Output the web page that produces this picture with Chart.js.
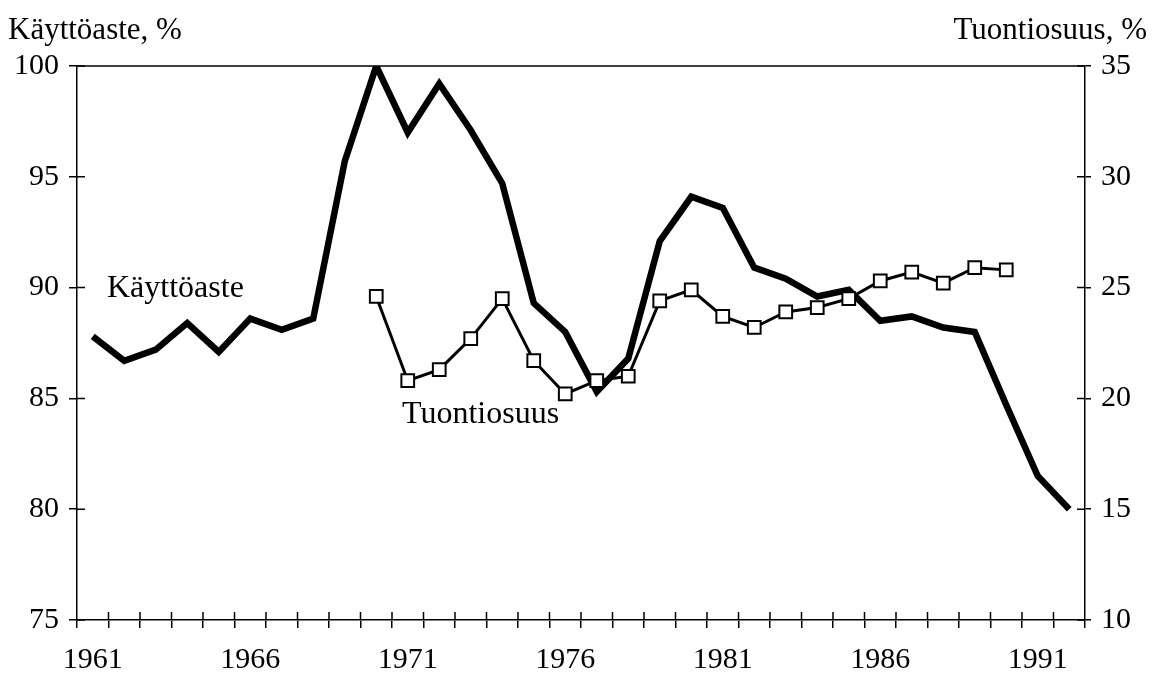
<!DOCTYPE html>
<html>
<head>
<meta charset="utf-8">
<script src="https://cdn.jsdelivr.net/npm/chart.js@4.4.1/dist/chart.umd.min.js"></script>
<style>
  html, body { margin: 0; padding: 0; background: #fff; }
  #wrap { width: 1154px; height: 683px; position: relative; }
</style>
</head>
<body>
<div id="wrap"><canvas id="chart"></canvas></div>
<script>
// years 1961..1992
let years = [];
for (let y = 1961; y <= 1992; y++) years.push(String(y));

// capacity utilisation, % (left axis)
let kayttoaste = [87.8, 86.7, 87.2, 88.4, 87.1, 88.6, 88.1, 88.6, 95.7, 100.0,
                  97.0, 99.2, 97.1, 94.7, 89.3, 88.0, 85.3, 86.8, 92.1, 94.1,
                  93.6, 90.9, 90.4, 89.6, 89.9, 88.5, 88.7, 88.2, 88.0, 84.7,
                  81.5, 80.0];

// import share, % (right axis), 1970..1990
let tuontiosuus = [null, null, null, null, null, null, null, null, null,
                   24.6, 20.8, 21.3, 22.7, 24.5, 21.7, 20.2, 20.8, 21.0, 24.4,
                   24.9, 23.7, 23.2, 23.9, 24.1, 24.5, 25.3, 25.7, 25.2, 25.9,
                   25.8, null, null];

let leftTicks = [75, 80, 85, 90, 95, 100];
let rightTicks = [10, 15, 20, 25, 30, 35];

const FONT = 'Liberation Serif';

// frame, inner tick marks and texts
const extras = {
  id: 'extras',
  afterDatasetsDraw(chart) {
    const ctx = chart.ctx;
    const a = chart.chartArea;
    const sx = chart.scales.x, sy = chart.scales.y, sy1 = chart.scales.y1;
    ctx.save();
    ctx.strokeStyle = '#000';
    ctx.lineWidth = 1.5;
    ctx.beginPath();
    ctx.moveTo(a.left, a.top);
    ctx.lineTo(a.right, a.top);
    ctx.stroke();
    // inner halves of tick marks
    ctx.beginPath();
    leftTicks.forEach(v => {
      const p = sy.getPixelForValue(v);
      ctx.moveTo(a.left, p); ctx.lineTo(a.left + 8, p);
    });
    rightTicks.forEach(v => {
      const p = sy1.getPixelForValue(v);
      ctx.moveTo(a.right, p); ctx.lineTo(a.right - 8, p);
    });
    for (let i = 1; i < years.length; i++) {
      const p = (sx.getPixelForTick(i - 1) + sx.getPixelForTick(i)) / 2;
      ctx.moveTo(p, a.bottom); ctx.lineTo(p, a.bottom - 8);
    }
    ctx.stroke();
    ctx.fillStyle = '#000';
    ctx.font = '31px "' + FONT + '"';
    ctx.textBaseline = 'middle';
    ctx.textAlign = 'left';
    ctx.fillText('Käyttöaste, %', 8, 31);
    ctx.font = '32px "' + FONT + '"';
    ctx.fillText('Käyttöaste', 107, 289);
    ctx.fillText('Tuontiosuus', 402, 415);
    ctx.font = '31px "' + FONT + '"';
    ctx.textAlign = 'right';
    ctx.fillText('Tuontiosuus, %', 1147, 31);
    ctx.restore();
  }
};

new Chart(document.getElementById('chart'), {
  type: 'line',
  data: {
    labels: years,
    datasets: [
      {
        label: 'Tuontiosuus',
        data: tuontiosuus,
        yAxisID: 'y1',
        borderColor: '#000',
        borderWidth: 3,
        pointStyle: 'rect',
        pointRadius: 9,
        pointBorderWidth: 2,
        pointBackgroundColor: '#fff',
        pointBorderColor: '#000',
        spanGaps: false,
        tension: 0
      },
      {
        label: 'Käyttöaste',
        data: kayttoaste,
        yAxisID: 'y',
        borderColor: '#000',
        borderWidth: 6.5,
        borderJoinStyle: 'miter',
        pointRadius: 0,
        tension: 0
      }
    ]
  },
  options: {
    responsive: true,
    maintainAspectRatio: false,
    animation: false,
    layout: { padding: { top: 66, left: 0, right: 0, bottom: 0 } },
    plugins: { legend: { display: false }, tooltip: { enabled: false } },
    scales: {
      x: {
        offset: true,
        grid: { offset: true, drawOnChartArea: false, color: '#000', tickLength: 8, lineWidth: 1.5 },
        border: { color: '#000', width: 1.5 },
        ticks: {
          autoSkip: false,
          maxRotation: 0,
          color: '#000',
          padding: 14,
          font: { family: FONT, size: 30 },
          callback: function (v, i) {
            return (i % 5 === 0) ? years[i] : '';
          }
        },
        afterFit: s => { s.height = 63; }
      },
      y: {
        position: 'left',
        min: 75, max: 100,
        grid: { drawOnChartArea: false, color: '#000', tickLength: 8, lineWidth: 1.5 },
        border: { color: '#000', width: 1.5 },
        ticks: {
          stepSize: 5, color: '#000', padding: 10,
          font: { family: FONT, size: 30 }
        },
        afterFit: s => { s.width = 77; }
      },
      y1: {
        position: 'right',
        min: 10, max: 35,
        grid: { drawOnChartArea: false, color: '#000', tickLength: 6, lineWidth: 1.5 },
        border: { color: '#000', width: 1.5 },
        ticks: {
          stepSize: 5, color: '#000', padding: 10,
          font: { family: FONT, size: 30 }
        },
        afterFit: s => { s.width = 69; }
      }
    }
  },
  plugins: [extras]
});
</script>
</body>
</html>
